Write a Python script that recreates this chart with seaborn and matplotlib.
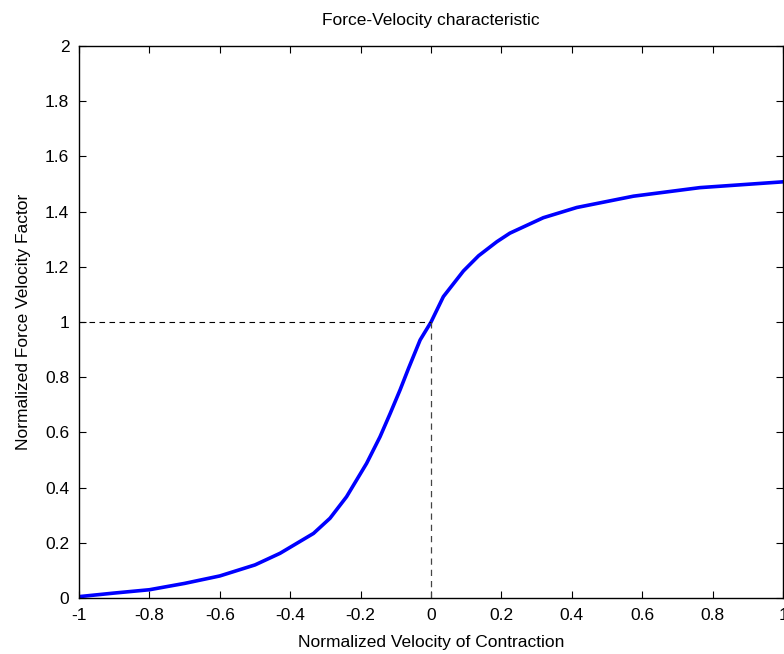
import numpy as np
import pandas as pd
import matplotlib
matplotlib.use("Agg")
import matplotlib.pyplot as plt
import seaborn as sns

# values
velocity = [-1.0, -0.9, -0.8, -0.7, -0.6, -0.5, -0.429, -0.334, -0.287, -0.24,
            -0.183, -0.145, -0.116, -0.088, -0.064, -0.031, 0.0, 0.035, 0.092,
            0.135, 0.187, 0.224, 0.319, 0.414, 0.575, 0.764, 1.0]
force = [0.005, 0.018, 0.03, 0.053, 0.08, 0.12, 0.162, 0.234, 0.289, 0.367,
         0.488, 0.584, 0.669, 0.754, 0.832, 0.935, 1.0, 1.092, 1.185,
         1.24, 1.291, 1.322, 1.378, 1.415, 1.456, 1.487, 1.508]

df = pd.DataFrame({"v": velocity, "f": force})

sns.set_style("ticks")
plt.rcParams['font.family'] = ['Liberation Sans', 'DejaVu Sans']
plt.rcParams['text.color'] = 'black'
plt.rcParams['axes.labelcolor'] = 'black'

fig = plt.figure(figsize=(7.84, 6.54), dpi=100)
ax = fig.add_axes([0.1008, 0.0856, 0.898, 0.844])

sns.lineplot(data=df, x="v", y="f", ax=ax, color="#0000ff", linewidth=2.6)
# reference lines at the isometric point
ax.plot([-1, 0], [1, 1], color="black", linestyle=(0, (5, 4)), linewidth=0.8)
ax.plot([0, 0], [0, 1], color="#444444", linestyle=(0, (5, 4)), linewidth=0.9)

ax.set_xlim(-1, 1)
ax.set_ylim(0, 2)
ax.set_xticks(np.arange(-1, 1.01, 0.2))
ax.set_yticks(np.arange(0, 2.01, 0.2))
ax.set_xticklabels(["-1", "-0.8", "-0.6", "-0.4", "-0.2", "0", "0.2", "0.4", "0.6", "0.8", "1"])
ax.set_yticklabels(["0", "0.2", "0.4", "0.6", "0.8", "1", "1.2", "1.4", "1.6", "1.8", "2"])
ax.tick_params(direction="in", top=True, right=True, length=5, width=0.8,
               labelsize=12.5, colors="black", pad=7)
for s in ax.spines.values():
    s.set_linewidth(1.0)
    s.set_color("black")

ax.set_title("Force-Velocity characteristic", fontsize=12.5, pad=15, color="black")
ax.set_xlabel("Normalized Velocity of Contraction", fontsize=12.5, labelpad=9)
ax.set_ylabel("Normalized Force Velocity Factor", fontsize=12.5, labelpad=10)

fig.savefig("out.png", dpi=100)
